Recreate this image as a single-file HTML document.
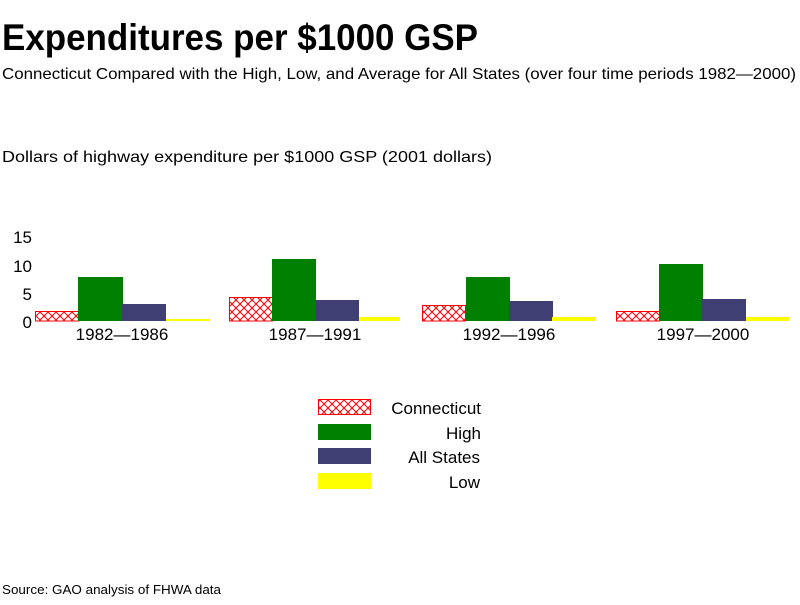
<!DOCTYPE html>
<html><head><style>
body{margin:0;width:800px;height:600px;background:#fff;overflow:hidden;font-family:"Liberation Sans",sans-serif;}
</style></head><body>
<svg width="800" height="600" xmlns="http://www.w3.org/2000/svg" font-family="Liberation Sans, sans-serif">
<defs>
<pattern id="h" width="8" height="8" patternUnits="userSpaceOnUse">
<rect width="8" height="8" fill="#fff"/>
<path d="M0,0L8,8M8,0L0,8" stroke="#f00" stroke-width="1"/>
</pattern>
</defs>
<text x="2" y="50" font-size="37" font-weight="bold" textLength="476" lengthAdjust="spacingAndGlyphs">Expenditures per $1000 GSP</text>
<text x="2" y="79" font-size="16" textLength="794" lengthAdjust="spacingAndGlyphs">Connecticut Compared with the High, Low, and Average for All States (over four time periods 1982—2000)</text>
<text x="2" y="162" font-size="16" textLength="490" lengthAdjust="spacingAndGlyphs">Dollars of highway expenditure per $1000 GSP  (2001 dollars)</text>
<g font-size="17" text-anchor="end">
<text x="32" y="243">15</text><text x="32" y="272">10</text><text x="32" y="300">5</text><text x="32" y="328">0</text>
</g>
<rect x="35.5" y="311.5" width="43" height="9.5" fill="url(#h)" stroke="#f00"/>
<rect x="78" y="277" width="45" height="44" fill="#008000"/>
<rect x="122" y="304" width="44" height="17" fill="#3f3f74"/>
<rect x="166" y="319" width="43" height="2" fill="#ff0"/>
<rect x="229.5" y="297.5" width="43" height="23.5" fill="url(#h)" stroke="#f00"/>
<rect x="272" y="259" width="44" height="62" fill="#008000"/>
<rect x="316" y="300" width="43" height="21" fill="#3f3f74"/>
<rect x="359" y="317" width="41" height="4" fill="#ff0"/>
<rect x="422.5" y="305.5" width="43" height="15.5" fill="url(#h)" stroke="#f00"/>
<rect x="466" y="277" width="44" height="44" fill="#008000"/>
<rect x="509" y="301" width="44" height="20" fill="#3f3f74"/>
<rect x="552" y="317" width="44" height="4" fill="#ff0"/>
<rect x="616.5" y="311.5" width="43" height="9.5" fill="url(#h)" stroke="#f00"/>
<rect x="659" y="264" width="44" height="57" fill="#008000"/>
<rect x="702" y="299" width="44" height="22" fill="#3f3f74"/>
<rect x="746" y="317" width="43" height="4" fill="#ff0"/>
<g font-size="17" text-anchor="middle">
<text x="122" y="340">1982—1986</text>
<text x="315" y="340">1987—1991</text>
<text x="509" y="340">1992—1996</text>
<text x="703" y="340">1997—2000</text>
</g>
<rect x="318.5" y="399.5" width="52" height="15" fill="url(#h)" stroke="#f00"/>
<rect x="318" y="424" width="53" height="16" fill="#008000"/>
<rect x="318" y="448" width="53" height="16" fill="#3f3f74"/>
<rect x="318" y="473" width="53" height="16" fill="#ff0"/>
<g font-size="17" text-anchor="end">
<text x="481" y="414">Connecticut</text>
<text x="481" y="439">High</text>
<text x="480" y="463">All States</text>
<text x="480" y="488">Low</text>
</g>
<text x="2" y="594" font-size="13" textLength="219" lengthAdjust="spacingAndGlyphs">Source: GAO analysis of FHWA data</text>
</svg>
</body></html>
